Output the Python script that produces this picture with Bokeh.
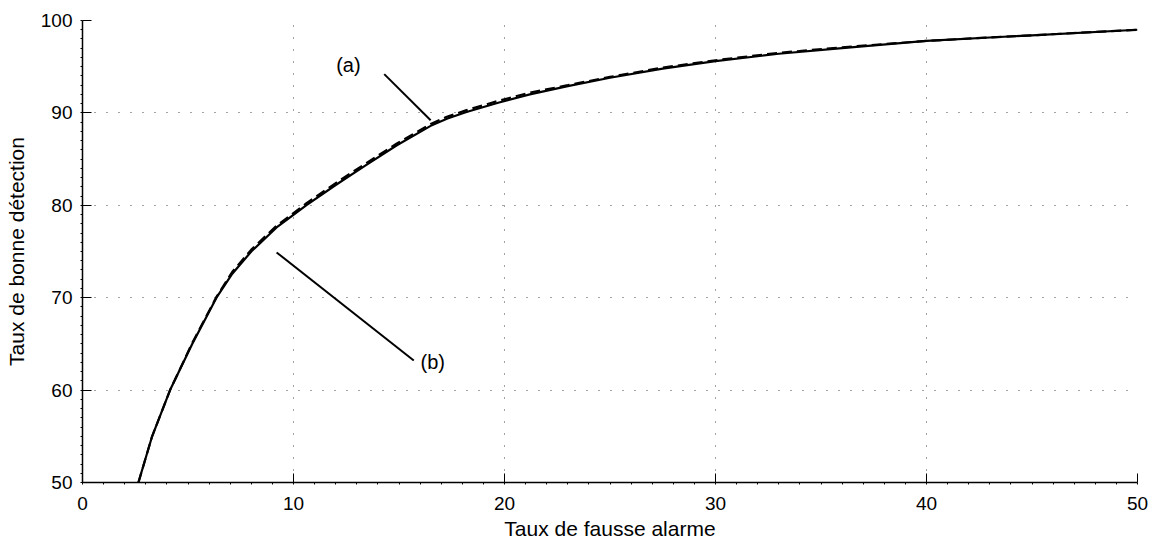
from bokeh.plotting import figure
from bokeh.embed import file_html
from bokeh.resources import INLINE
from bokeh.models import FixedTicker, Label, ColumnDataSource

# Data
fa_b = [2.65, 3.3, 4.15, 5.2, 6.35, 7.1, 8.0, 9.2, 10.6, 12.0, 13.4, 14.9, 16.5,
        17.3, 18.2, 19.7, 21.2, 23.0, 25.0, 27.5, 30.0, 33.0, 36.0, 40.0, 45.0, 50.0]
det_b = [50.0, 55.0, 60.0, 65.0, 70.0, 72.6, 75.0, 77.6, 80.0, 82.2, 84.3, 86.5, 88.6,
         89.4, 90.1, 91.1, 92.0, 92.9, 93.8, 94.8, 95.6, 96.4, 97.0, 97.8, 98.4, 99.0]
fa_a = [2.65, 3.3, 4.15, 5.2, 6.35, 7.1, 8.0, 9.2, 10.6, 12.0, 13.4, 14.9, 16.5,
        17.3, 18.2, 19.7, 21.2, 23.0, 25.0, 27.5, 30.0, 33.0, 36.0, 40.0, 45.0, 50.0]
det_a = [50.0, 55.0, 60.0, 65.1, 70.1, 72.8, 75.2, 77.8, 80.2, 82.4, 84.5, 86.7, 88.8,
         89.6, 90.3, 91.3, 92.2, 93.0, 93.9, 94.9, 95.7, 96.5, 97.1, 97.8, 98.4, 99.0]

x_ticks = [0, 10, 20, 30, 40, 50]
y_ticks = [50, 60, 70, 80, 90, 100]

# annotation pointers (data coordinates)
ann_labels = ["(a)", "(b)"]
ann_text_x = [12.6, 16.6]
ann_text_y = [95.2, 63.0]
ann_x0 = [14.3, 9.2]
ann_y0 = [94.2, 74.9]
ann_x1 = [16.5, 15.7]
ann_y1 = [89.2, 63.2]

FONT = "Liberation Sans"

p = figure(width=1152, height=544, x_range=(0, 50), y_range=(50, 100),
           output_backend="svg", toolbar_location=None,
           min_border_left=82, min_border_right=15, min_border_top=20,
           min_border_bottom=62)
p.outline_line_color = None
p.background_fill_color = "white"

for ax in (p.xaxis[0], p.yaxis[0]):
    ax.major_tick_in = 9
    ax.major_tick_out = 0
    ax.minor_tick_in = 0
    ax.minor_tick_out = 2
    ax.axis_line_color = "black"
    ax.axis_line_width = 1.5
    ax.major_tick_line_color = "black"
    ax.minor_tick_line_color = "black"
    ax.major_label_text_font = FONT
    ax.major_label_text_font_size = "19px"
    ax.major_label_text_color = "black"
    ax.axis_label_text_font = FONT
    ax.axis_label_text_font_size = "21px"
    ax.axis_label_text_font_style = "normal"
    ax.axis_label_text_color = "black"

p.xaxis.ticker = FixedTicker(ticks=x_ticks, minor_ticks=[i for i in range(0, 51)])
p.yaxis.ticker = FixedTicker(ticks=y_ticks, minor_ticks=[50 + i for i in range(0, 51)])
p.xaxis.axis_label = "Taux de fausse alarme"
p.yaxis.axis_label = "Taux de bonne détection"
p.xaxis.major_label_standoff = 12
p.yaxis.major_label_standoff = 8
p.xaxis.axis_label_standoff = 4
p.yaxis.axis_label_standoff = 10

for g in (p.xgrid[0], p.ygrid[0]):
    g.grid_line_color = "#444444"
    g.grid_line_dash = "1 11"
    g.grid_line_width = 1

p.line(fa_a, det_a, line_color="black", line_width=2.2, line_dash="10 5")
p.line(fa_b, det_b, line_color="black", line_width=2.2)

src = ColumnDataSource(dict(x0=ann_x0, y0=ann_y0, x1=ann_x1, y1=ann_y1))
p.segment(x0="x0", y0="y0", x1="x1", y1="y1", source=src, line_color="black", line_width=2)

for t, x, y in zip(ann_labels, ann_text_x, ann_text_y):
    p.add_layout(Label(x=x, y=y, text=t, text_font=FONT, text_font_size="20px",
                       text_align="center", text_baseline="middle", text_color="black"))

open("out.html", "w").write(file_html(p, INLINE))
